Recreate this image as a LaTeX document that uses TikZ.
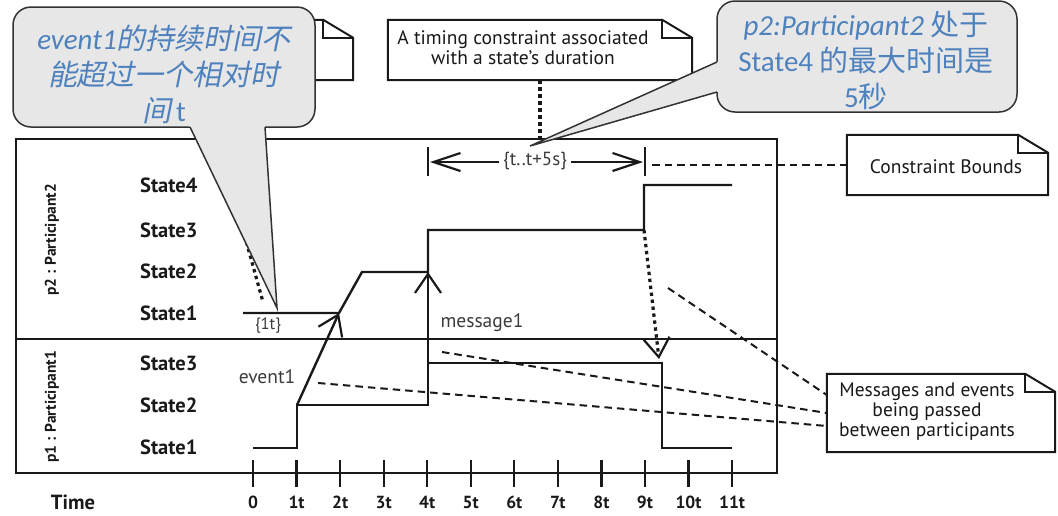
\documentclass[tikz,border=0pt]{standalone}
\usepackage{fontspec}
\setmainfont{PT Sans}
\newfontfamily\calib{Carlito}
\newfontfamily\cjk{Noto Sans CJK SC}
\newfontfamily\cjkit{Noto Sans CJK SC}[FakeSlant=0.2]
\usetikzlibrary{arrows.meta}
\definecolor{cblue}{RGB}{79,129,189}
\definecolor{cfill}{RGB}{231,231,231}
\definecolor{cline}{RGB}{50,50,50}
\definecolor{ink}{RGB}{25,25,25}
\newcommand\foldnote[1]{%
  \draw[noteline] (#1.south west) -- (#1.north west) -- ([xshift=-30pt]#1.north east)
    -- ([yshift=-18pt]#1.north east) -- (#1.south east) -- cycle;
  \draw[noteline] ([xshift=-30pt]#1.north east) -- ([xshift=-30pt,yshift=-18pt]#1.north east)
    -- ([yshift=-18pt]#1.north east);}
\begin{document}
\begin{tikzpicture}[x=1pt,y=-1pt,
  sig/.style={line width=2.4pt, draw=ink, line join=miter},
  frame/.style={line width=2pt, draw=ink},
  dotl/.style={line width=3.2pt, draw=ink, dash pattern=on 3.4pt off 3.6pt},
  dashl/.style={line width=2pt, draw=ink, dash pattern=on 7.5pt off 5pt},
  arrA/.style={-{Straight Barb[length=19pt,width=26pt,line width=2.2pt]}},
  arrB/.style={-{Straight Barb[length=27pt,width=18pt,line width=2.2pt]}},
  notebg/.style={fill=white, inner sep=0pt},
  noteline/.style={line width=2pt, draw=ink, line join=miter},
  notetxt/.style={font=\fontsize{19.5}{20}\selectfont, text=ink, align=center, inner sep=0pt},
  statelab/.style={font=\bfseries\fontsize{20.5}{20}\selectfont, text=ink, anchor=west, inner sep=0pt},
  ticklab/.style={font=\bfseries\fontsize{17.5}{17}\selectfont, text=ink, inner sep=0pt},
  small/.style={font=\fontsize{19.5}{19}\selectfont, text=ink!85, inner sep=0pt},
  partlab/.style={font=\bfseries\fontsize{15.5}{15}\selectfont, text=ink, rotate=90, inner sep=0pt},
  callbox/.style={draw=cline, fill=cfill, line width=1.5pt, rounded corners=18pt},
  calltxt/.style={text=cblue, align=center, inner sep=0pt,
    font=\calib\fontsize{29}{36}\selectfont}
]
\useasboundingbox (0,0) rectangle (1058,515);

% hidden note behind the left callout
\node[notebg, minimum width=293pt, minimum height=60pt] (hnote) at (206.5,50) {};
\foldnote{hnote}

% timing constraint note
\node[notebg, minimum width=304pt, minimum height=60pt] (tnote) at (540,50) {};
\foldnote{tnote}
\node[notetxt] (ttxt) at (523,48) {A timing constraint associated\\with a state’s duration};

% constraint bounds note
\node[notebg, minimum width=201pt, minimum height=60pt] (cnote) at (947.5,165) {};
\foldnote{cnote}
\node[notetxt] (ctxt) at (946,167) {Constraint Bounds};

% messages note
\node[notebg, minimum width=228pt, minimum height=78pt] (mnote) at (941,413) {};
\foldnote{mnote}
\node[notetxt] (mtxt) at (927,412) {Messages and events\\being passed\\between participants};

% frame
\coordinate (fNW) at (16,139);
\coordinate (fSE) at (777,473);
\draw[frame] (fNW) rectangle (fSE);
\coordinate (sepL) at (16,339);
\coordinate (sepR) at (777,339);
\draw[frame] (sepL) -- (sepR);

% participant labels
\node[partlab] (p2lab) at (52,240) {p2 : Participant2};
\node[partlab] (p1lab) at (52,407) {p1 : Participant1};

% state labels
\node[statelab] (s24) at (140,185) {State4};
\node[statelab] (s23) at (140,230) {State3};
\node[statelab] (s22) at (140,271) {State2};
\node[statelab] (s21) at (140,313) {State1};
\node[statelab] (s13) at (140,363) {State3};
\node[statelab] (s12) at (140,405) {State2};
\node[statelab] (s11) at (140,447) {State1};

% time axis
\node[ticklab, font=\bfseries\fontsize{20.5}{18}\selectfont] (timelab) at (73,502) {Time};
\foreach \i/\lab in {0/0,1/1t,2/2t,3/3t,4/4t,5/5t,6/6t,7/7t,8/8t,9/9t,10/10t,11/11t}{
  \coordinate (tk\i) at (253+\i*43.55,473);
  \draw[frame, line width=2.3pt] ([yshift=13pt]tk\i) -- ([yshift=-14pt]tk\i);
  \node[ticklab] (tl\i) at (253+\i*43.55,502) {\lab};
}

% p1 lifeline
\coordinate (a1) at (253,448);
\coordinate (a2) at (297,448);
\coordinate (a3) at (297,405);
\coordinate (a4) at (428,405);
\coordinate (a5) at (428,363);
\coordinate (a6) at (662,363);
\coordinate (a7) at (662,448);
\coordinate (a8) at (732,448);
\draw[sig] (a1) -- (a2) -- (a3) -- (a4) -- (a5) -- (a6) -- (a7) -- (a8);

% p2 lifeline
\coordinate (b1) at (243,313);
\coordinate (b2) at (339,313);
\coordinate (b3) at (362,272);
\coordinate (b4) at (428,272);
\coordinate (b5) at (428,230);
\coordinate (b6) at (644,230);
\coordinate (b7) at (644,185);
\coordinate (b8) at (732,185);
\draw[sig] (b1) -- (b2) -- (b3) -- (b4) -- (b5) -- (b6) -- (b7) -- (b8);

% event1 and message1
\draw[sig, arrA] (a3) -- (b2);
\draw[sig, arrA] (a5) -- (b4);
\node[small] (ev1) at (267,377) {event1};
\node[small] (msg1) at (482,323) {message1};
\node[small, font=\fontsize{16.5}{16}\selectfont] (one) at (268,326) {\{1t\}};

% message at 9t (dotted)
\coordinate (m9) at (659,359);
\draw[dotl, arrA] (b6) -- (m9);

% duration constraint
\coordinate (lbT) at (428,147); \coordinate (lbB) at (428,176);
\coordinate (rbT) at (645,147); \coordinate (rbB) at (645,176);
\draw[frame, line width=2.5pt] (lbT) -- (lbB);
\draw[frame, line width=2.5pt] (rbT) -- (rbB);
\node[small, font=\fontsize{19}{19}\selectfont] (dur) at (535,161) {\{t..t+5s\}};
\draw[frame, arrB] (dur.west) ++(-4,1) coordinate (dl) (dl) -- ([xshift=2pt]lbT |- dl);
\draw[frame, arrB] (dur.east) ++(4,1) coordinate (dr) (dr) -- ([xshift=-2pt]rbT |- dr);

% connectors from notes
\coordinate (tdot) at (540,142);
\draw[dotl] (tnote.south) -- (tdot);
\coordinate (cstart) at (652,165);
\draw[dashl] (cstart) -- (cnote.west);
\coordinate (h1) at (263,302);
\draw[dotl] (hnote.south) ++(-5,0) coordinate (hs) (hs) -- (h1);
\coordinate (e1) at (668,288);
\coordinate (e2) at (442,352);
\coordinate (e3) at (318,383);
\draw[dashl] (e1) -- (mnote.west |- 0,395);
\draw[dashl] (e2) -- (mnote.west |- 0,413);
\draw[dashl] (e3) -- (mnote.west |- 0,426);

% left callout
\node[callbox, minimum width=302pt, minimum height=120pt] (cl) at (164,67) {};
\coordinate (clL) at (190,127);
\coordinate (clR) at (265,127);
\coordinate (clT) at (277,308);
\fill[cfill] (186.6,120) -- (264.5,120) -- (clT) -- cycle;
\draw[cline, line width=1.5pt, line join=miter] (clL) -- (clT) -- (clR);
\node[calltxt] (cltxt) at (164,74) {\textit{event1}{\cjkit 的持续时间不}\\{\cjkit 能超过一个相对时}\\{\cjkit 间}\,t};

% right callout
\node[callbox, minimum width=300pt, minimum height=111pt] (cr) at (867,56.5) {};
\coordinate (crU) at (717,62);
\coordinate (crD) at (717,92);
\coordinate (crT) at (530,146);
\fill[cfill] (724,58.9) -- (724,90) -- (crT) -- cycle;
\draw[cline, line width=1.5pt, line join=miter] (crU) -- (crT) -- (crD);
\node[calltxt] (crtxt) at (866,60) {\textit{p2:Participant2} {\cjk 处于}\\State4 {\cjk 的最大时间是}\\5{\cjk 秒}};
\end{tikzpicture}
\end{document}
